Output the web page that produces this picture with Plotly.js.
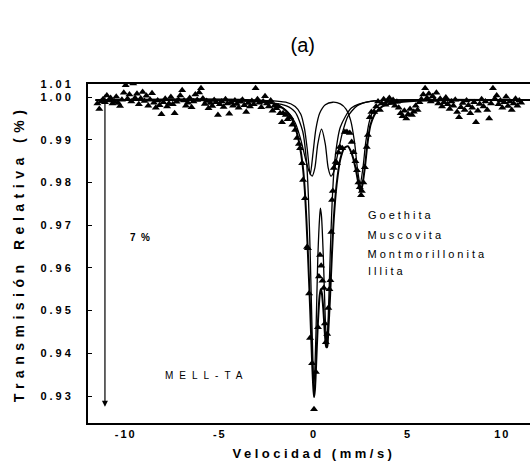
<!DOCTYPE html>
<html>
<head>
<meta charset="utf-8">
<script src="https://cdn.plot.ly/plotly-3.0.1.min.js"></script>
<style>
html,body{margin:0;padding:0;overflow:hidden;background:#fff;}
#chart{width:545px;height:474px;}
.ytick text{letter-spacing:3px;}
.xtick text{letter-spacing:2px;}
text.ytitle{letter-spacing:5.5px;}
text.xtitle{letter-spacing:3.5px;}
g.annotation text{letter-spacing:3px;}
g.annotation[data-index="4"] text{letter-spacing:0px;}
g.annotation[data-index="5"] text{letter-spacing:6px;}
</style>
</head>
<body>
<div id="chart"></div>
<script>
// ---- measured data (velocity mm/s, relative transmission) ----
const vel = [
-11.5,-11.4,-11.3,-11.2,-11.1,-11.0,-10.9,-10.8,-10.7,-10.6,-10.5,-10.4,-10.3,-10.2,-10.1,-10.0,
-9.9,-9.8,-9.7,-9.6,-9.5,-9.4,-9.3,-9.2,-9.1,-9.0,-8.9,-8.8,-8.7,-8.6,-8.5,-8.4,-8.3,-8.2,-8.1,-8.0,
-7.9,-7.8,-7.7,-7.6,-7.5,-7.4,-7.3,-7.2,-7.1,-7.0,-6.9,-6.8,-6.7,-6.6,-6.5,-6.4,-6.3,-6.2,-6.1,-6.0,
-5.9,-5.8,-5.7,-5.6,-5.5,-5.4,-5.3,-5.2,-5.1,-5.0,-4.9,-4.8,-4.7,-4.6,-4.5,-4.4,-4.3,-4.2,-4.1,-4.0,
-3.9,-3.8,-3.7,-3.6,-3.5,-3.4,-3.3,-3.2,-3.1,-3.0,-2.9,-2.8,-2.7,-2.6,-2.5,-2.4,-2.3,-2.2,-2.1,-2.0,
-1.9,-1.8,-1.7,-1.64,-1.5,-1.4,-1.27,-1.15,-1.0,-0.9,-0.8,-0.74,-0.63,-0.58,-0.48,-0.37,-0.32,-0.26,-0.21,-0.1,
0.0,0.1,0.21,0.26,0.32,0.38,0.45,0.52,0.58,0.63,0.7,0.76,0.82,0.87,0.92,0.96,1.0,1.05,1.15,1.22,1.3,1.37,1.5,1.64,1.75,1.9,
2.0,2.1,2.2,2.28,2.36,2.43,2.5,2.54,2.62,2.7,2.8,2.86,2.96,3.05,3.2,
3.3,3.4,3.5,3.6,3.7,3.8,3.9,4.0,4.1,4.2,4.3,4.4,4.5,4.6,4.7,4.8,4.9,5.0,5.1,5.2,5.3,5.4,5.5,5.6,5.7,5.8,5.9,
6.0,6.1,6.2,6.3,6.4,6.5,6.6,6.7,6.8,6.9,7.0,7.1,7.2,7.3,7.4,7.5,7.6,7.7,7.8,7.9,8.0,8.1,8.2,8.3,8.4,8.5,8.6,8.7,8.8,8.9,
9.0,9.1,9.2,9.3,9.4,9.5,9.6,9.7,9.8,9.9,10.0,10.1,10.2,10.3,10.4,10.5,10.6,10.7,10.8,10.9,11.0
];
const trans = [
0.9985,0.9972,0.9990,0.9995,0.9988,1.0004,0.9992,0.9998,0.9985,0.9990,1.0001,0.9986,0.9979,0.9994,1.0010,1.0028,
0.9996,1.0006,0.9990,1.0032,0.9998,1.0008,0.9983,0.9997,1.0012,0.9991,1.0003,0.9980,0.9994,1.0009,0.9987,0.9975,0.9992,0.9981,0.9960,0.9988,
0.9996,0.9978,0.9985,1.0000,0.9983,0.9962,0.9989,0.9994,1.0004,1.0016,0.9992,0.9980,0.9987,0.9998,0.9976,0.9990,1.0006,0.9993,1.0011,1.0021,
0.9997,0.9984,0.9991,0.9974,0.9986,0.9979,0.9993,0.9988,0.9958,0.9983,0.9990,0.9977,0.9995,0.9985,0.9961,0.9988,0.9980,0.9992,0.9984,0.9975,
0.9989,0.9994,0.9981,0.9965,0.9986,0.9978,0.9991,0.9983,1.0021,0.9995,0.9987,0.9976,0.9990,1.0002,0.9985,0.9978,0.9992,0.9968,0.9980,0.9974,
0.9978,0.9962,0.9941,0.9962,0.9958,0.9948,0.9953,0.9935,0.9923,0.9904,0.9890,0.9880,0.9845,0.9806,0.9763,0.9649,0.9646,0.9540,0.9436,0.9377,
0.9269,0.9356,0.9461,0.9580,0.9630,0.9605,0.9570,0.9553,0.9470,0.9426,0.9445,0.9506,0.9550,0.9571,0.9684,0.9759,0.9780,0.9834,0.9848,0.9845,0.9870,0.9883,0.9880,0.9918,0.9918,0.9916,
0.9895,0.9871,0.9850,0.9829,0.9800,0.9789,0.9770,0.9780,0.9800,0.9836,0.9883,0.9911,0.9953,0.9965,0.9965,
0.9978,0.9990,0.9970,0.9985,0.9995,0.9982,0.9991,0.9998,0.9986,0.9993,0.9980,0.9989,0.9975,0.9962,0.9955,0.9968,0.9950,0.9960,0.9972,0.9958,0.9966,0.9980,0.9970,0.9988,0.9995,1.0006,1.0021,
0.9998,1.0008,0.9990,1.0002,0.9993,1.0010,0.9985,0.9996,0.9978,0.9988,0.9999,0.9983,0.9972,0.9990,0.9980,0.9994,0.9965,0.9953,0.9976,0.9986,0.9970,0.9992,0.9981,0.9962,0.9975,0.9988,0.9941,0.9968,0.9984,0.9995,
0.9978,0.9990,0.9970,0.9950,0.9985,1.0021,0.9996,1.0004,0.9983,0.9992,0.9975,0.9988,1.0001,0.9979,0.9990,0.9970,0.9985,0.9996,0.9980,0.9992,0.9987
];

// ---- fitted curves ----
const fitV = [-11.6,-4.0,-2.5,-2.0,-1.6,-1.3,-1.1,-0.9,-0.75,-0.6,-0.5,-0.4,-0.3,-0.2,-0.1,-0.05,0.0,0.05,0.1,0.2,0.3,0.36,0.42,0.5,0.58,0.65,0.7,0.75,0.85,0.95,1.05,1.2,1.4,1.6,1.8,2.0,2.2,2.35,2.45,2.55,2.7,2.85,3.0,3.3,3.7,4.5,6.0,11.6];
const fitT = [0.9993,0.9992,0.9988,0.9983,0.9972,0.9958,0.9942,0.9915,0.9885,0.9840,0.9790,0.9710,0.9610,0.9500,0.9380,0.9330,0.9297,0.9315,0.9360,0.9465,0.9535,0.9550,0.9540,0.9500,0.9445,0.9415,0.9415,0.9445,0.9530,0.9630,0.9715,0.9795,0.9855,0.9880,0.9885,0.9868,0.9835,0.9800,0.9780,0.9790,0.9835,0.9895,0.9935,0.9965,0.9980,0.9988,0.9992,0.9993];

const c1V = [-11.6,-2.5,-1.5,-1.0,-0.7,-0.5,-0.35,-0.2,-0.05,0.1,0.3,0.6,1.0,1.4,1.7,1.95,2.15,2.3,2.45,2.6,2.75,2.95,3.2,3.6,4.5,11.6];
const c1T = [0.9993,0.9992,0.9988,0.9978,0.9960,0.9925,0.9875,0.9818,0.9870,0.9925,0.9962,0.9982,0.9988,0.9984,0.9972,0.9945,0.9895,0.9835,0.9795,0.9835,0.9895,0.9945,0.9972,0.9985,0.9991,0.9993];

const c2V = [-11.6,-2.5,-1.5,-1.0,-0.7,-0.45,-0.25,-0.1,0.05,0.2,0.4,0.6,0.75,0.9,1.05,1.25,1.5,1.8,2.3,3.0,11.6];
const c2T = [0.9993,0.9990,0.9970,0.9940,0.9900,0.9855,0.9825,0.9815,0.9835,0.9890,0.9925,0.9890,0.9835,0.9815,0.9825,0.9865,0.9915,0.9955,0.9980,0.9990,0.9993];

const c3V = [-11.6,-3.0,-1.5,-1.0,-0.6,-0.4,-0.3,-0.2,-0.1,0.0,0.1,0.2,0.3,0.34,0.4,0.5,0.6,0.68,0.76,0.86,0.96,1.1,1.4,2.0,3.0,11.6];
const c3T = [0.9993,0.9990,0.9980,0.9965,0.9920,0.9850,0.9770,0.9630,0.9450,0.9320,0.9440,0.9620,0.9720,0.9740,0.9720,0.9620,0.9480,0.9420,0.9490,0.9630,0.9750,0.9850,0.9930,0.9975,0.9990,0.9993];

// ---- axis ticks and labels ----
const yTickVals = [0.93,0.94,0.95,0.96,0.97,0.98,0.99,1.00,1.003];
const yTickText = ['0.93','0.94','0.95','0.96','0.97','0.98','0.99','1.00','1.01'];
const xTickVals = [-10,-5,0,5,10];
const xTickText = ['-10','-5','0','5','10'];
const legendNames = ['Goethita','Muscovita','Montmorillonita','Illita'];
const legendY = [0.9724,0.9677,0.9632,0.9593];

const lineStyle = (w) => ({color:'#000', width:w, shape:'spline', smoothing:0.7});
const traces = [
  {x:c1V, y:c1T, mode:'lines', line:lineStyle(1.3), hoverinfo:'skip'},
  {x:c2V, y:c2T, mode:'lines', line:lineStyle(1.3), hoverinfo:'skip'},
  {x:c3V, y:c3T, mode:'lines', line:lineStyle(1.3), hoverinfo:'skip'},
  {x:fitV, y:fitT, mode:'lines', line:lineStyle(2), hoverinfo:'skip'},
  {x:vel, y:trans, mode:'markers', marker:{symbol:'triangle-up', size:7, color:'#000'}}
];

const tf = {family:'Liberation Sans, Arial, sans-serif', color:'#000'};
// letter-spacing (3px per character) widens text symmetrically; shift so the left edges line up
const annotations = legendNames.map((t,i)=>({
  x:2.75, y:legendY[i], xref:'x', yref:'y', text:t, showarrow:false, xanchor:'left', yanchor:'middle',
  xshift:t.length*1.5, font:Object.assign({size:11}, tf)
}));
annotations.push({x:-9.9, y:0.9672, xref:'x', yref:'y', text:'7  %', showarrow:false, xanchor:'left',
  font:Object.assign({size:10, weight:'bold'}, tf)});
annotations.push({x:-5.7, y:0.9347, xref:'x', yref:'y', text:'MELL-TA', showarrow:false,
  font:Object.assign({size:10}, tf)});
annotations.push({x:-11.1, y:0.9275, xref:'x', yref:'y', ax:-11.1, ay:1.0009, axref:'x', ayref:'y',
  text:'', showarrow:true, arrowhead:2, arrowsize:1, arrowwidth:1.2, arrowcolor:'#000'});

const layout = {
  width:545, height:474,
  margin:{l:88, r:5, t:84, b:51},
  paper_bgcolor:'#fff', plot_bgcolor:'#fff',
  showlegend:false,
  title:{text:'(a)', x:0.5555, xanchor:'center', y:0.905, yanchor:'middle', font:Object.assign({size:20}, tf)},
  xaxis:{range:[-12,12], tickvals:xTickVals, ticktext:xTickText, showgrid:false, zeroline:false,
    showline:true, linecolor:'#000', linewidth:2, mirror:true, ticks:'',
    tickfont:Object.assign({size:11, weight:'bold'}, tf),
    title:{text:'Velocidad (mm/s)', standoff:10, font:Object.assign({size:13, weight:'bold'}, tf)}},
  yaxis:{range:[0.92368,1.00307], tickvals:yTickVals, ticktext:yTickText, showgrid:false, zeroline:false,
    showline:true, linecolor:'#000', linewidth:2, mirror:true, ticks:'inside', ticklen:4, tickcolor:'#000',
    ticklabelstandoff:10,
    tickfont:Object.assign({size:11, weight:'bold'}, tf),
    title:{text:'Transmisión Relativa (%)', standoff:12, font:Object.assign({size:14, weight:'bold'}, tf)}},
  annotations:annotations
};
Plotly.newPlot('chart', traces, layout, {staticPlot:true, displayModeBar:false});
</script>
</body>
</html>
